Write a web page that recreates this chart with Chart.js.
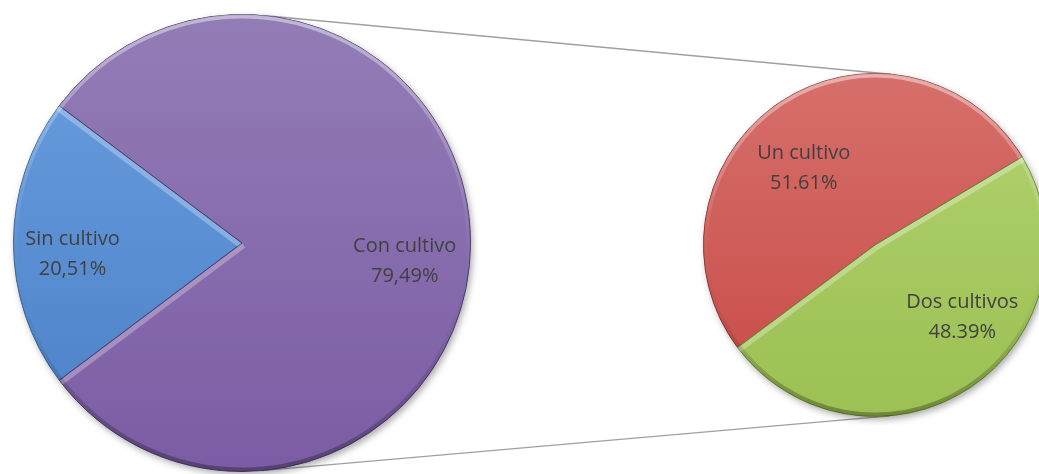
<!DOCTYPE html>
<html>
<head>
<meta charset="utf-8">
<script src="https://cdn.jsdelivr.net/npm/chart.js@4/dist/chart.umd.min.js"></script>
<style>
  html, body { margin: 0; padding: 0; background: #fff; width: 1039px; height: 474px; overflow: hidden; }
  canvas { position: absolute; }
  #lines { left: 0; top: 0; }
  #main { left: 5px; top: 6px; }
  #detail { left: 695px; top: 65px; }
</style>
</head>
<body>
<canvas id="lines" width="1039" height="474"></canvas>
<canvas id="main" width="474" height="474"></canvas>
<canvas id="detail" width="360" height="360"></canvas>
<script>
// main pie
const mainLabels = ["Sin cultivo", "Con cultivo"];
const mainValues = [20.51, 79.49];
const mainText = ["20,51%", "79,49%"];
// breakdown of "Con cultivo"
const detailLabels = ["Un cultivo", "Dos cultivos"];
const detailValues = [51.61, 48.39];
const detailText = ["51.61%", "48.39%"];

const mainColors = [["#6b9fe0", "#4a7fc6"], ["#937db6", "#7b5ca4"]];
const mainBorders = ["#3b659c", "#4e3a70"];
const detailColors = [["#d66f6b", "#c84a46"], ["#b2d26f", "#9cc053"]];
const detailBorders = ["#8e3532", "#6a8a33"];

const gradientFill = colors => ctx => {
    const area = ctx.chart.chartArea;
    if (!area) return colors[ctx.dataIndex][1];
    const [top, bottom] = colors[ctx.dataIndex];
    const g = ctx.chart.ctx.createLinearGradient(0, area.top, 0, area.bottom);
    g.addColorStop(0, top);
    g.addColorStop(1, bottom);
    return g;
};

// light strip along the straight edges of a slice that face upwards
const edgeHighlight = (ctx, arc, x, y, r) => {
    ctx.save();
    ctx.beginPath();
    ctx.moveTo(x, y);
    ctx.arc(x, y, r, arc.startAngle, arc.endAngle);
    ctx.closePath();
    ctx.clip();
    [[arc.startAngle, -1], [arc.endAngle, 1]].forEach(([a, s]) => {
        const nx = s * Math.sin(a);
        const ny = -s * Math.cos(a);
        if (ny < 0.2) return;
        ctx.strokeStyle = `rgba(255,255,255,${0.35 * ny})`;
        ctx.lineWidth = 5;
        ctx.beginPath();
        ctx.moveTo(x + nx * 3, y + ny * 3);
        ctx.lineTo(x + Math.cos(a) * r + nx * 3, y + Math.sin(a) * r + ny * 3);
        ctx.stroke();
    });
    ctx.restore();
};

// shadow under the disc, soft rim and two-line slice captions
const piePaint = {
    id: "piePaint",
    beforeDatasetsDraw(chart) {
        const {x, y, outerRadius: r} = chart.getDatasetMeta(0).data[0];
        const ctx = chart.ctx;
        ctx.save();
        ctx.shadowColor = "rgba(0,0,0,0.35)";
        ctx.shadowBlur = 7;
        ctx.shadowOffsetX = 2;
        ctx.shadowOffsetY = 3;
        ctx.fillStyle = "#777";
        ctx.beginPath();
        ctx.arc(x, y, r, 0, Math.PI * 2);
        ctx.fill();
        ctx.restore();
    },
    afterDatasetsDraw(chart, args, opts) {
        const arcs = chart.getDatasetMeta(0).data;
        const {x, y, outerRadius: r} = arcs[0];
        const ctx = chart.ctx;

        arcs.forEach(arc => edgeHighlight(ctx, arc, x, y, r));

        ctx.save();
        ctx.beginPath();
        ctx.arc(x, y, r, 0, Math.PI * 2);
        ctx.clip();
        const rim = ctx.createLinearGradient(0, y - r, 0, y + r);
        rim.addColorStop(0, "rgba(255,255,255,0.45)");
        rim.addColorStop(0.45, "rgba(255,255,255,0.05)");
        rim.addColorStop(0.7, "rgba(0,0,0,0.04)");
        rim.addColorStop(1, "rgba(0,0,0,0.3)");
        ctx.strokeStyle = rim;
        ctx.lineWidth = 6;
        ctx.beginPath();
        ctx.arc(x, y, r - 1, 0, Math.PI * 2);
        ctx.stroke();
        ctx.restore();

        ctx.save();
        ctx.font = opts.font;
        ctx.fillStyle = "#404040";
        ctx.textAlign = "center";
        ctx.textBaseline = "middle";
        arcs.forEach((arc, i) => {
            const mid = (arc.startAngle + arc.endAngle) / 2;
            const [frac, dx, dy] = opts.anchors[i];
            const cx = x + Math.cos(mid) * r * frac + dx;
            const cy = y + Math.sin(mid) * r * frac + dy;
            const lines = [chart.data.labels[i], opts.text[i]];
            lines.forEach((t, k) => ctx.fillText(t, cx, cy + (k - 0.5) * opts.lineHeight));
        });
        ctx.restore();
    }
};

const pieOptions = (rotation, text, anchors) => ({
    responsive: false,
    animation: false,
    rotation,
    layout: {padding: 8},
    plugins: {
        legend: {display: false},
        tooltip: {enabled: false},
        piePaint: {text, anchors, font: "20px 'Open Sans'", lineHeight: 30}
    }
});

const mainChart = new Chart("main", {
    type: "pie",
    data: {
        labels: mainLabels,
        datasets: [{
            data: mainValues,
            backgroundColor: gradientFill(mainColors),
            borderColor: mainBorders,
            borderWidth: 1
        }]
    },
    // keep the small slice centred on the left
    options: pieOptions(270 - mainValues[0] * 1.8, mainText, [[0.742, 0, 11], [0.712, 0, 18]]),
    plugins: [piePaint]
});

const detailChart = new Chart("detail", {
    type: "pie",
    data: {
        labels: detailLabels,
        datasets: [{
            data: detailValues,
            backgroundColor: gradientFill(detailColors),
            borderColor: detailBorders,
            borderWidth: 1
        }]
    },
    options: pieOptions(233.3, detailText, [[0.6, -14, 9], [0.6, 30, -13]]),
    plugins: [piePaint]
});

// grey connectors: outer common tangents of the two discs
const disc = chart => {
    const {x, y, outerRadius} = chart.getDatasetMeta(0).data[0];
    return {x: x + chart.canvas.offsetLeft, y: y + chart.canvas.offsetTop, r: outerRadius};
};

const drawConnectors = () => {
    const a = disc(mainChart);
    const b = disc(detailChart);
    const theta = Math.atan2(b.y - a.y, b.x - a.x);
    const dist = Math.hypot(b.x - a.x, b.y - a.y);
    const beta = Math.acos((a.r - b.r) / dist);
    const ctx = document.getElementById("lines").getContext("2d");
    ctx.strokeStyle = "#a0a0a0";
    ctx.lineWidth = 1.3;
    [theta - beta, theta + beta].forEach(ang => {
        ctx.beginPath();
        ctx.moveTo(a.x + Math.cos(ang) * a.r, a.y + Math.sin(ang) * a.r);
        ctx.lineTo(b.x + Math.cos(ang) * b.r, b.y + Math.sin(ang) * b.r);
        ctx.stroke();
    });
};

drawConnectors();
</script>
</body>
</html>
